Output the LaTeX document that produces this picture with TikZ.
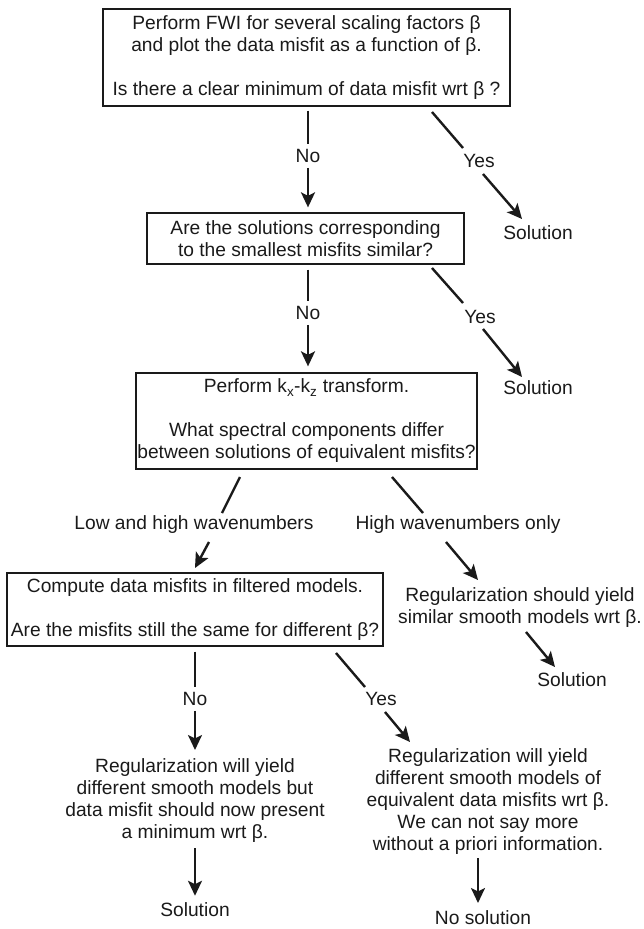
\documentclass[tikz,border=0pt]{standalone}
\usepackage{fontspec}
\setmainfont{Liberation Sans}
\usetikzlibrary{calc,arrows.meta}
\definecolor{ink}{HTML}{1A1A1A}
\begin{document}
\begin{tikzpicture}[x=1pt,y=-1pt,
  font=\fontsize{19.2}{22}\selectfont,
  box/.style={draw=ink, line width=1.3pt, align=center, inner sep=0pt, text=ink},
  txt/.style={align=center, inner sep=3pt, text=ink},
  lbl/.style={inner sep=5pt, text=ink},
  ln/.style={draw=ink, line width=2.4pt},
  arr/.style={ln, -{Stealth[length=15pt,width=14pt,inset=3.5pt]}}]
\useasboundingbox (0,0) rectangle (644,929);

% boxes
\node[box, minimum width=407pt, minimum height=97pt] (b1) at (306.5,57.5)
  {Perform FWI for several scaling factors β\\and plot the data misfit as a function of β.\\[22pt]Is there a clear minimum of data misfit wrt β ?};
\node[box, minimum width=317pt, minimum height=51pt] (b2) at (305.5,238.5)
  {Are the solutions corresponding\\to the smallest misfits similar?};
\node[box, minimum width=341pt, minimum height=96pt] (b3) at (306.5,421)
  {Perform k\textsubscript{x}-k\textsubscript{z} transform.\\[22pt]What spectral components differ\\between solutions of equivalent misfits?};
\node[box, minimum width=376pt, minimum height=73pt] (b4) at (195,609.5)
  {Compute data misfits in filtered models.\\[22pt]Are the misfits still the same for different β?};

% outcome texts
\node[txt] (sol1) at (538,233) {Solution};
\node[txt] (sol2) at (538,388) {Solution};
\node[txt] (reg1) at (520,607.5) {Regularization should yield\\similar smooth models wrt β.};
\node[txt] (sol3) at (572,680) {Solution};
\node[txt] (res1) at (195,801) {Regularization will yield\\different smooth models but\\data misfit should now present\\a minimum wrt β.};
\node[txt] (res2) at (488,801.5) {Regularization will yield\\different smooth models of\\equivalent data misfits wrt β.\\We can not say more\\without a priori information.};
\node[txt] (sol4) at (195,910) {Solution};
\node[txt] (nosol) at (483,918) {No solution};

% labels
\node[lbl] (no1) at (308,156) {No};
\coordinate (s1) at (432,112);
\node[lbl] (yes1) at (479,161) {Yes};
\node[lbl] (no2) at (308,313) {No};
\coordinate (s2) at (432,268);
\node[lbl] (yes2) at (480,317) {Yes};
\node[lbl] (low) at (194,525) {Low and high wavenumbers};
\node[lbl] (high) at (458,525) {High wavenumbers only};
\node[lbl] (no3) at (195,699) {No};
\node[lbl] (yes3) at (381,699) {Yes};

% free ends
\coordinate (l1) at (240,477); \coordinate (l2) at (222,513);
\coordinate (l3) at (209,542); \coordinate (l4) at (195,568);
\coordinate (h1) at (392,477); \coordinate (h2) at (423,513);
\coordinate (h3) at (446,542); \coordinate (h4) at (478,580);
\coordinate (r1) at (526,632); \coordinate (r2) at (555,667);
\coordinate (n3) at (195,750);
\coordinate (y1) at (336,653); \coordinate (y2) at (365,687);
\coordinate (y3) at (385,712); \coordinate (y4) at (410,742);
\coordinate (w1) at (478,858); \coordinate (w2) at (478,903);
\coordinate (e1) at (463,148); \coordinate (e2) at (483,174); \coordinate (e3) at (522,219);
\coordinate (f1) at (463,303); \coordinate (f2) at (483,329); \coordinate (f3) at (522,377);

% connectors
\draw[ln, shorten <=4pt] (no1 |- b1.south) -- (no1);
\draw[arr, shorten >=5pt] (no1) -- (no1 |- b2.north);
\draw[ln] (s1) -- (e1);
\draw[arr] (e2) -- (e3);
\draw[ln, shorten <=5pt] (no2 |- b2.south) -- (no2);
\draw[arr, shorten >=6pt] (no2) -- (no2 |- b3.north);
\draw[ln] (s2) -- (f1);
\draw[arr] (f2) -- (f3);
\draw[ln] (l1) -- (l2);
\draw[arr] (l3) -- (l4);
\draw[ln] (h1) -- (h2);
\draw[arr] (h3) -- (h4);
\draw[arr] (r1) -- (r2);
\draw[ln, shorten <=5pt] (no3 |- b4.south) -- (no3);
\draw[arr] (no3) -- (n3);
\draw[ln] (y1) -- (y2);
\draw[arr] (y3) -- (y4);
\draw[arr, shorten <=2pt, shorten >=4pt] (res1) -- (sol4);
\draw[arr] (w1) -- (w2);
\end{tikzpicture}
\end{document}
